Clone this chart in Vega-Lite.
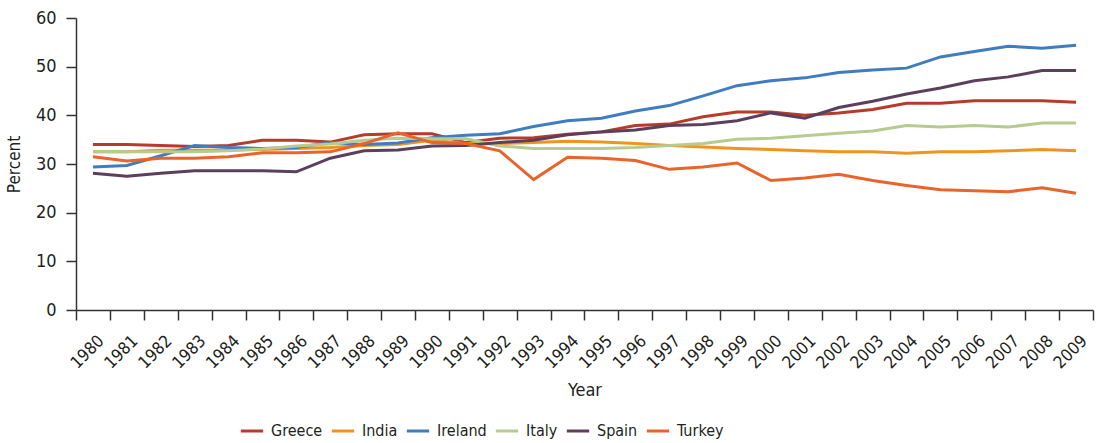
{
  "$schema": "https://vega.github.io/schema/vega-lite/v6.json",
  "width": 1017,
  "height": 292,
  "autosize": {"type": "none"},
  "padding": {"left": 76, "top": 18, "right": 6, "bottom": 133},
  "background": "white",
  "config": {
    "view": {"stroke": null},
    "font": "DejaVu Sans Condensed, sans-serif",
    "axis": {"labelFont": "DejaVu Sans Condensed, sans-serif", "titleFont": "DejaVu Sans Condensed, sans-serif", "labelColor": "#231f20", "titleColor": "#231f20", "domainColor": "#333333", "tickColor": "#333333", "domainWidth": 1.5, "tickWidth": 1.5, "grid": false},
    "legend": {"labelFont": "DejaVu Sans Condensed, sans-serif", "labelColor": "#231f20"}
  },
  "data": {"values": [
    {"year":"1980","country":"Greece","value":34.0},{"year":"1981","country":"Greece","value":34.0},{"year":"1982","country":"Greece","value":33.8},{"year":"1983","country":"Greece","value":33.6},{"year":"1984","country":"Greece","value":33.8},{"year":"1985","country":"Greece","value":34.9},{"year":"1986","country":"Greece","value":34.9},{"year":"1987","country":"Greece","value":34.5},{"year":"1988","country":"Greece","value":36.0},{"year":"1989","country":"Greece","value":36.2},{"year":"1990","country":"Greece","value":36.2},{"year":"1991","country":"Greece","value":34.4},{"year":"1992","country":"Greece","value":35.3},{"year":"1993","country":"Greece","value":35.4},{"year":"1994","country":"Greece","value":36.1},{"year":"1995","country":"Greece","value":36.6},{"year":"1996","country":"Greece","value":37.9},{"year":"1997","country":"Greece","value":38.2},{"year":"1998","country":"Greece","value":39.7},{"year":"1999","country":"Greece","value":40.7},{"year":"2000","country":"Greece","value":40.7},{"year":"2001","country":"Greece","value":40.0},{"year":"2002","country":"Greece","value":40.5},{"year":"2003","country":"Greece","value":41.2},{"year":"2004","country":"Greece","value":42.5},{"year":"2005","country":"Greece","value":42.5},{"year":"2006","country":"Greece","value":43.0},{"year":"2007","country":"Greece","value":43.0},{"year":"2008","country":"Greece","value":43.0},{"year":"2009","country":"Greece","value":42.7},

    {"year":"1980","country":"India","value":32.5},{"year":"1981","country":"India","value":32.5},{"year":"1982","country":"India","value":32.8},{"year":"1983","country":"India","value":32.8},{"year":"1984","country":"India","value":32.9},{"year":"1985","country":"India","value":33.0},{"year":"1986","country":"India","value":33.2},{"year":"1987","country":"India","value":33.4},{"year":"1988","country":"India","value":33.8},{"year":"1989","country":"India","value":34.0},{"year":"1990","country":"India","value":34.9},{"year":"1991","country":"India","value":34.2},{"year":"1992","country":"India","value":34.2},{"year":"1993","country":"India","value":34.4},{"year":"1994","country":"India","value":34.7},{"year":"1995","country":"India","value":34.5},{"year":"1996","country":"India","value":34.2},{"year":"1997","country":"India","value":33.8},{"year":"1998","country":"India","value":33.5},{"year":"1999","country":"India","value":33.2},{"year":"2000","country":"India","value":33.0},{"year":"2001","country":"India","value":32.7},{"year":"2002","country":"India","value":32.5},{"year":"2003","country":"India","value":32.5},{"year":"2004","country":"India","value":32.2},{"year":"2005","country":"India","value":32.5},{"year":"2006","country":"India","value":32.5},{"year":"2007","country":"India","value":32.7},{"year":"2008","country":"India","value":33.0},{"year":"2009","country":"India","value":32.7},

    {"year":"1980","country":"Ireland","value":29.4},{"year":"1981","country":"Ireland","value":29.7},{"year":"1982","country":"Ireland","value":31.7},{"year":"1983","country":"Ireland","value":33.8},{"year":"1984","country":"Ireland","value":33.4},{"year":"1985","country":"Ireland","value":33.2},{"year":"1986","country":"Ireland","value":33.4},{"year":"1987","country":"Ireland","value":34.4},{"year":"1988","country":"Ireland","value":34.0},{"year":"1989","country":"Ireland","value":34.3},{"year":"1990","country":"Ireland","value":35.4},{"year":"1991","country":"Ireland","value":35.9},{"year":"1992","country":"Ireland","value":36.2},{"year":"1993","country":"Ireland","value":37.7},{"year":"1994","country":"Ireland","value":38.9},{"year":"1995","country":"Ireland","value":39.4},{"year":"1996","country":"Ireland","value":40.9},{"year":"1997","country":"Ireland","value":42.0},{"year":"1998","country":"Ireland","value":44.0},{"year":"1999","country":"Ireland","value":46.1},{"year":"2000","country":"Ireland","value":47.1},{"year":"2001","country":"Ireland","value":47.7},{"year":"2002","country":"Ireland","value":48.8},{"year":"2003","country":"Ireland","value":49.3},{"year":"2004","country":"Ireland","value":49.7},{"year":"2005","country":"Ireland","value":52.0},{"year":"2006","country":"Ireland","value":53.1},{"year":"2007","country":"Ireland","value":54.2},{"year":"2008","country":"Ireland","value":53.8},{"year":"2009","country":"Ireland","value":54.4},

    {"year":"1980","country":"Italy","value":32.5},{"year":"1981","country":"Italy","value":32.5},{"year":"1982","country":"Italy","value":32.5},{"year":"1983","country":"Italy","value":32.5},{"year":"1984","country":"Italy","value":32.7},{"year":"1985","country":"Italy","value":33.1},{"year":"1986","country":"Italy","value":33.7},{"year":"1987","country":"Italy","value":34.1},{"year":"1988","country":"Italy","value":34.9},{"year":"1989","country":"Italy","value":35.3},{"year":"1990","country":"Italy","value":35.2},{"year":"1991","country":"Italy","value":35.2},{"year":"1992","country":"Italy","value":33.7},{"year":"1993","country":"Italy","value":33.2},{"year":"1994","country":"Italy","value":33.2},{"year":"1995","country":"Italy","value":33.2},{"year":"1996","country":"Italy","value":33.4},{"year":"1997","country":"Italy","value":33.8},{"year":"1998","country":"Italy","value":34.2},{"year":"1999","country":"Italy","value":35.1},{"year":"2000","country":"Italy","value":35.3},{"year":"2001","country":"Italy","value":35.8},{"year":"2002","country":"Italy","value":36.3},{"year":"2003","country":"Italy","value":36.8},{"year":"2004","country":"Italy","value":37.9},{"year":"2005","country":"Italy","value":37.6},{"year":"2006","country":"Italy","value":37.9},{"year":"2007","country":"Italy","value":37.6},{"year":"2008","country":"Italy","value":38.4},{"year":"2009","country":"Italy","value":38.4},

    {"year":"1980","country":"Spain","value":28.1},{"year":"1981","country":"Spain","value":27.5},{"year":"1982","country":"Spain","value":28.1},{"year":"1983","country":"Spain","value":28.6},{"year":"1984","country":"Spain","value":28.6},{"year":"1985","country":"Spain","value":28.6},{"year":"1986","country":"Spain","value":28.4},{"year":"1987","country":"Spain","value":31.2},{"year":"1988","country":"Spain","value":32.7},{"year":"1989","country":"Spain","value":32.9},{"year":"1990","country":"Spain","value":33.7},{"year":"1991","country":"Spain","value":33.8},{"year":"1992","country":"Spain","value":34.4},{"year":"1993","country":"Spain","value":34.9},{"year":"1994","country":"Spain","value":36.0},{"year":"1995","country":"Spain","value":36.6},{"year":"1996","country":"Spain","value":37.0},{"year":"1997","country":"Spain","value":37.9},{"year":"1998","country":"Spain","value":38.1},{"year":"1999","country":"Spain","value":38.9},{"year":"2000","country":"Spain","value":40.5},{"year":"2001","country":"Spain","value":39.4},{"year":"2002","country":"Spain","value":41.6},{"year":"2003","country":"Spain","value":42.9},{"year":"2004","country":"Spain","value":44.4},{"year":"2005","country":"Spain","value":45.6},{"year":"2006","country":"Spain","value":47.1},{"year":"2007","country":"Spain","value":47.9},{"year":"2008","country":"Spain","value":49.2},{"year":"2009","country":"Spain","value":49.2},

    {"year":"1980","country":"Turkey","value":31.5},{"year":"1981","country":"Turkey","value":30.6},{"year":"1982","country":"Turkey","value":31.2},{"year":"1983","country":"Turkey","value":31.2},{"year":"1984","country":"Turkey","value":31.5},{"year":"1985","country":"Turkey","value":32.3},{"year":"1986","country":"Turkey","value":32.3},{"year":"1987","country":"Turkey","value":32.5},{"year":"1988","country":"Turkey","value":34.2},{"year":"1989","country":"Turkey","value":36.4},{"year":"1990","country":"Turkey","value":34.4},{"year":"1991","country":"Turkey","value":34.2},{"year":"1992","country":"Turkey","value":32.7},{"year":"1993","country":"Turkey","value":26.8},{"year":"1994","country":"Turkey","value":31.4},{"year":"1995","country":"Turkey","value":31.2},{"year":"1996","country":"Turkey","value":30.7},{"year":"1997","country":"Turkey","value":28.9},{"year":"1998","country":"Turkey","value":29.4},{"year":"1999","country":"Turkey","value":30.2},{"year":"2000","country":"Turkey","value":26.6},{"year":"2001","country":"Turkey","value":27.1},{"year":"2002","country":"Turkey","value":27.9},{"year":"2003","country":"Turkey","value":26.6},{"year":"2004","country":"Turkey","value":25.6},{"year":"2005","country":"Turkey","value":24.7},{"year":"2006","country":"Turkey","value":24.5},{"year":"2007","country":"Turkey","value":24.3},{"year":"2008","country":"Turkey","value":25.1},{"year":"2009","country":"Turkey","value":24.0}
  ]},
  "mark": {"type": "line", "strokeWidth": 3},
  "encoding": {
    "x": {
      "field": "year", "type": "ordinal",
      "scale": {"type": "band", "paddingInner": 0, "paddingOuter": 0},
      "axis": {"title": "Year", "titleFontSize": 18, "titleFontWeight": "normal", "titlePadding": 10,
               "labelAngle": -45, "labelAlign": "right", "labelBaseline": "middle", "labelFontSize": 17, "labelPadding": 18, "labelOffset": 8,
               "tickBand": "extent", "tickSize": 10}
    },
    "y": {
      "field": "value", "type": "quantitative",
      "scale": {"domain": [0, 60], "nice": false},
      "axis": {"title": "Percent", "titleFontSize": 17, "titleFontWeight": "normal", "titlePadding": 12,
               "values": [0,10,20,30,40,50,60], "labelFontSize": 18, "tickSize": 10, "labelPadding": 10}
    },
    "color": {
      "field": "country", "type": "nominal",
      "scale": {"domain": ["Greece","India","Ireland","Italy","Spain","Turkey"],
                "range": ["#b73b2b","#ef951f","#3f7cc0","#b7ca8f","#5b3f5d","#e9642a"]},
      "legend": {"title": null, "orient": "none", "legendX": 163, "legendY": 400, "direction": "horizontal", "symbolType": "stroke",
                 "symbolStrokeWidth": 3, "symbolSize": 500, "labelFontSize": 16, "columnPadding": 2, "labelOffset": 6}
    }
  }
}
